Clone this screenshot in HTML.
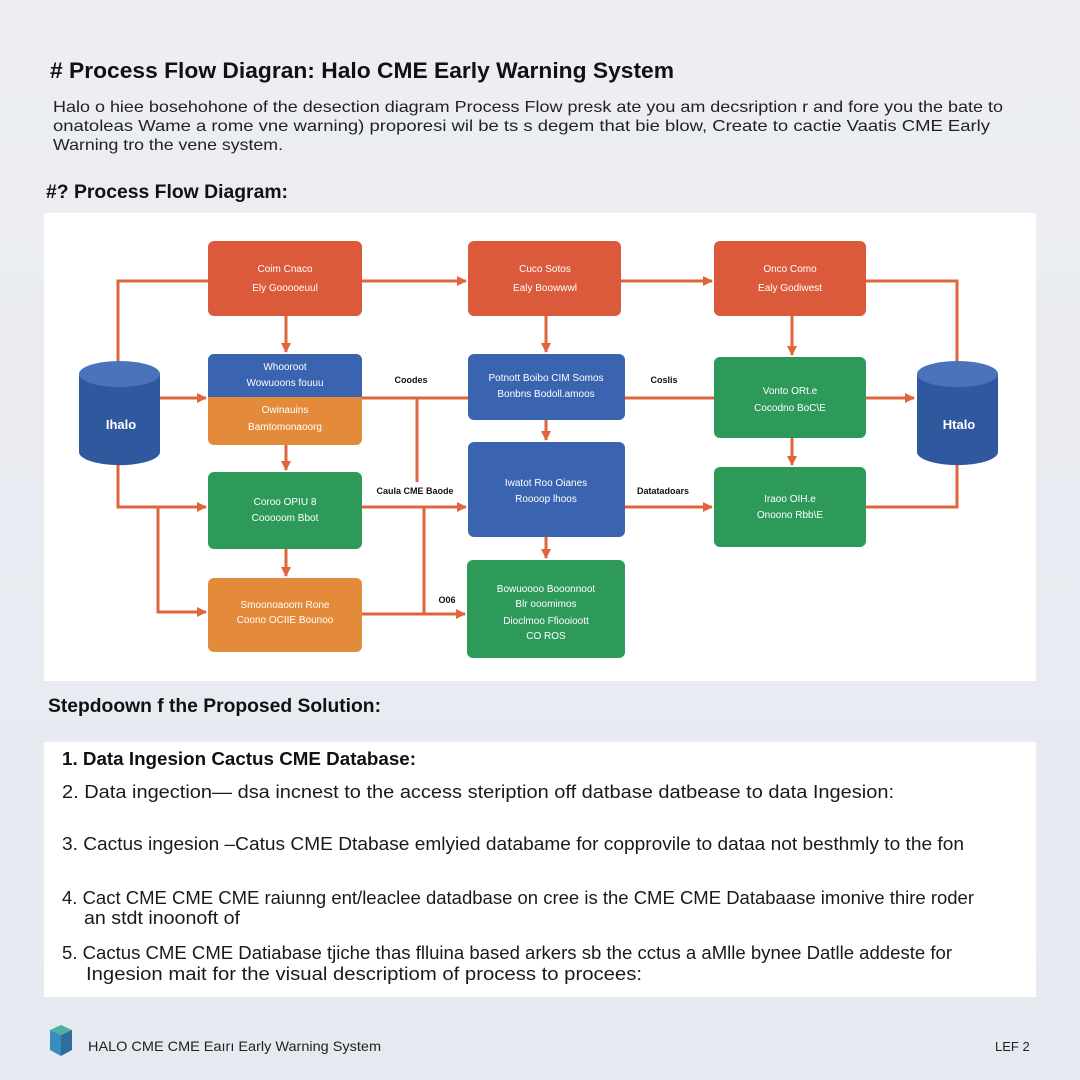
<!DOCTYPE html>
<html><head><meta charset="utf-8"><style>
html,body{margin:0;padding:0;background:#e9ecf2;}
svg{display:block;}
text{font-family:"Liberation Sans",sans-serif;}
</style></head><body>
<svg width="1080" height="1080" viewBox="0 0 1080 1080" xmlns="http://www.w3.org/2000/svg">
<defs>
<marker id="a" markerWidth="10" markerHeight="10" refX="9" refY="5" orient="auto" markerUnits="userSpaceOnUse"><path d="M0,0 L10,5 L0,10 z" fill="#e0643c"/></marker>
<linearGradient id="bg" x1="0" y1="0" x2="0" y2="1"><stop offset="0" stop-color="#eceef3"/><stop offset="1" stop-color="#e6e9f0"/></linearGradient>
</defs>
<rect width="1080" height="1080" fill="url(#bg)"/>
<!-- header -->
<text x="50" y="78" font-size="22" font-weight="bold" fill="#111" textLength="624" lengthAdjust="spacingAndGlyphs"># Process Flow Diagran: Halo CME Early Warning System</text>
<text x="53" y="112" font-size="16" fill="#222" textLength="950" lengthAdjust="spacingAndGlyphs">Halo o hiee bosehohone of the desection diagram Process Flow presk ate you am decsription r and fore you the bate to</text>
<text x="53" y="131" font-size="16" fill="#222" textLength="937" lengthAdjust="spacingAndGlyphs">onatoleas Wame a rome vne warning) proporesi wil  be ts s degem that bie blow, Create to cactie Vaatis CME Early</text>
<text x="53" y="150" font-size="16" fill="#222" textLength="230" lengthAdjust="spacingAndGlyphs">Warning tro the vene system.</text>
<text x="46" y="198" font-size="19" font-weight="bold" fill="#111" textLength="242" lengthAdjust="spacingAndGlyphs">#? Process Flow Diagram:</text>
<!-- diagram panel -->
<rect x="44" y="213" width="992" height="468" fill="#ffffff"/>
<g stroke="#e0643c" stroke-width="3" fill="none">
<path d="M118 362 V281 H208"/>
<path d="M362 281 H466" marker-end="url(#a)"/>
<path d="M621 281 H712" marker-end="url(#a)"/>
<path d="M866 281 H957 V364"/>
<path d="M286 316 V352" marker-end="url(#a)"/>
<path d="M546 316 V352" marker-end="url(#a)"/>
<path d="M792 316 V355" marker-end="url(#a)"/>
<path d="M160 398 H206" marker-end="url(#a)"/>
<path d="M362 398 H468"/>
<path d="M625 398 H714"/>
<path d="M417 398 V482"/>
<path d="M866 398 H914" marker-end="url(#a)"/>
<path d="M286 445 V470" marker-end="url(#a)"/>
<path d="M118 465 V507 H206" marker-end="url(#a)"/>
<path d="M158 507 V612 H206" marker-end="url(#a)"/>
<path d="M362 507 H466" marker-end="url(#a)"/>
<path d="M424 507 V614"/>
<path d="M362 614 H465" marker-end="url(#a)"/>
<path d="M286 549 V576" marker-end="url(#a)"/>
<path d="M546 420 V440" marker-end="url(#a)"/>
<path d="M546 537 V558" marker-end="url(#a)"/>
<path d="M625 507 H712" marker-end="url(#a)"/>
<path d="M792 438 V465" marker-end="url(#a)"/>
<path d="M866 507 H957 V465"/>
</g>
<!-- boxes -->
<g>
<rect x="208" y="241" width="154" height="75" rx="6" fill="#dc5a3c"/>
<rect x="468" y="241" width="153" height="75" rx="6" fill="#dc5a3c"/>
<rect x="714" y="241" width="152" height="75" rx="6" fill="#dc5a3c"/>
<rect x="208" y="354" width="154" height="91" rx="6" fill="#e38b3a"/>
<path d="M208 397 V360 a6 6 0 0 1 6 -6 H356 a6 6 0 0 1 6 6 V397 z" fill="#3a64b0"/>
<rect x="468" y="354" width="157" height="66" rx="6" fill="#3a64b0"/>
<rect x="468" y="442" width="157" height="95" rx="6" fill="#3a64b0"/>
<rect x="208" y="472" width="154" height="77" rx="6" fill="#2e9a5a"/>
<rect x="208" y="578" width="154" height="74" rx="6" fill="#e38b3a"/>
<rect x="467" y="560" width="158" height="98" rx="6" fill="#2e9a5a"/>
<rect x="714" y="357" width="152" height="81" rx="6" fill="#2e9a5a"/>
<rect x="714" y="467" width="152" height="80" rx="6" fill="#2e9a5a"/>
</g>
<!-- cylinders -->
<g>
<path d="M79 374 V452 a40 13 0 0 0 81 0 V374 z" fill="#2f589f"/>
<ellipse cx="119.5" cy="374" rx="40.5" ry="13" fill="#4a73bb"/>
<path d="M917 374 V452 a40 13 0 0 0 81 0 V374 z" fill="#2f589f"/>
<ellipse cx="957.5" cy="374" rx="40.5" ry="13" fill="#4a73bb"/>
</g>
<g font-size="13" font-weight="bold" fill="#fff" text-anchor="middle">
<text x="121" y="429">Ihalo</text>
<text x="959" y="429">Htalo</text>
</g>
<g font-size="10" fill="#fff" text-anchor="middle">
<text x="285" y="272">Coim Cnaco</text>
<text x="285" y="291">Ely Gooooeuul</text>
<text x="545" y="272">Cuco Sotos</text>
<text x="545" y="291">Ealy Boowwwl</text>
<text x="790" y="272">Onco Como</text>
<text x="790" y="291">Ealy Godiwest</text>
<text x="285" y="370">Whooroot</text>
<text x="285" y="386">Wowuoons fouuu</text>
<text x="285" y="413">Owinauins</text>
<text x="285" y="430">Bamtomonaoorg</text>
<text x="546" y="381">Potnott Boibo CIM Somos</text>
<text x="546" y="397">Bonbns Bodoll.amoos</text>
<text x="546" y="486">Iwatot Roo Oianes</text>
<text x="546" y="502">Roooop lhoos</text>
<text x="285" y="505">Coroo OPIU 8</text>
<text x="285" y="521">Cooooom Bbot</text>
<text x="285" y="608">Smoonoaoom Rone</text>
<text x="285" y="623">Coono OCIIE Bounoo</text>
<text x="546" y="592">Bowuoooo Booonnoot</text>
<text x="546" y="607">Blr ooomimos</text>
<text x="546" y="624">Dioclmoo Ffiooioott</text>
<text x="546" y="639">CO ROS</text>
<text x="790" y="394">Vonto ORt.e</text>
<text x="790" y="411">Cocodno BoC\E</text>
<text x="790" y="502">Iraoo OIH.e</text>
<text x="790" y="518">Onoono Rbb\E</text>
</g>
<g font-size="9" font-weight="bold" fill="#111" text-anchor="middle">
<text x="411" y="383">Coodes</text>
<text x="664" y="383">Coslis</text>
<text x="415" y="494">Caula CME Baode</text>
<text x="663" y="494">Datatadoars</text>
<text x="447" y="603">O06</text>
</g>
<text x="48" y="712" font-size="19" font-weight="bold" fill="#111" textLength="333" lengthAdjust="spacingAndGlyphs">Stepdoown f the Proposed Solution:</text>
<!-- list panel -->
<rect x="44" y="742" width="992" height="255" fill="#ffffff"/>
<text x="62" y="765" font-size="18" font-weight="bold" fill="#111" textLength="354" lengthAdjust="spacingAndGlyphs">1.  Data Ingesion Cactus CME Database:</text>
<g font-size="18" fill="#1a1a1a">
<text x="62" y="798" textLength="832" lengthAdjust="spacingAndGlyphs">2.  Data ingection— dsa incnest to the access  steription off datbase datbease to data Ingesion:</text>
<text x="62" y="850" textLength="902" lengthAdjust="spacingAndGlyphs">3.  Cactus ingesion –Catus CME Dtabase emlyied databame for copprovile to dataa not besthmly to the fon</text>
<text x="62" y="904" textLength="912" lengthAdjust="spacingAndGlyphs">4.  Cact CME CME CME raiunng ent/leaclee datadbase on cree is the CME CME Databaase imonive thire roder</text>
<text x="84" y="924" textLength="156" lengthAdjust="spacingAndGlyphs">an stdt inoonoft of</text>
<text x="62" y="959" textLength="890" lengthAdjust="spacingAndGlyphs">5.  Cactus CME CME Datiabase tjiche thas flluina based arkers sb the cctus a aMlle bynee Datlle addeste for</text>
<text x="86" y="980" textLength="556" lengthAdjust="spacingAndGlyphs">Ingesion mait for the visual descriptiom of process to procees:</text>
</g>
<!-- footer -->
<g>
<path d="M50 1030 L61 1025 L72 1030 L61 1035 z" fill="#4fb0a0"/>
<path d="M50 1030 L61 1035 V1056 L50 1050 z" fill="#3a8cc0"/>
<path d="M72 1030 L61 1035 V1056 L72 1050 z" fill="#2c6f9e"/>
</g>
<text x="88" y="1051" font-size="14" fill="#222" textLength="293" lengthAdjust="spacingAndGlyphs">HALO CME CME Eaırı Early Warning System</text>
<text x="995" y="1051" font-size="13" fill="#222">LEF 2</text>
</svg>
</body></html>
